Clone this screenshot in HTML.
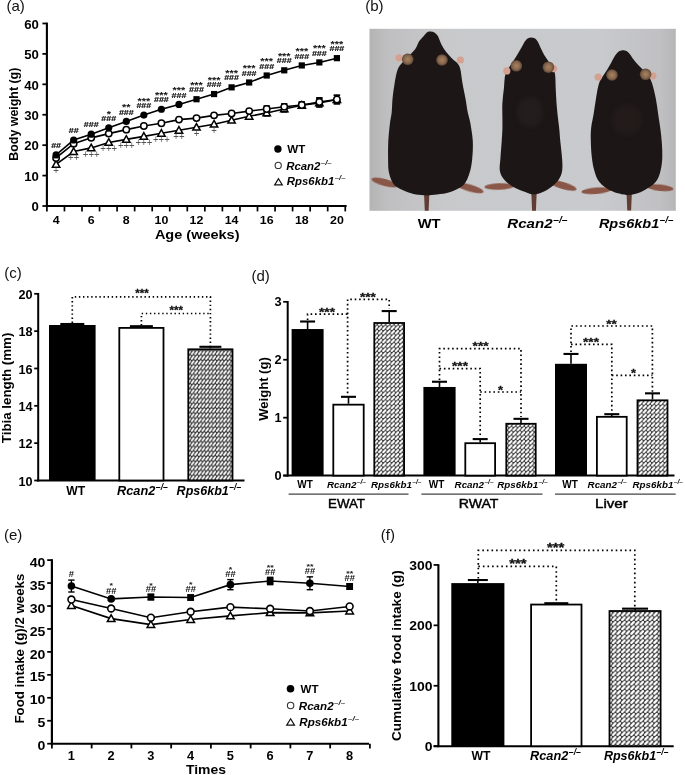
<!DOCTYPE html>
<html><head><meta charset="utf-8"><title>Figure</title>
<style>
html,body{margin:0;padding:0;background:#fff;}
body{width:685px;height:775px;overflow:hidden;}
svg{display:block;font-family:'Liberation Sans', sans-serif;}
text{opacity:0.999;}
</style></head><body>
<svg width="685" height="775" viewBox="0 0 685 775">
<defs>
<pattern id="hatchc" patternUnits="userSpaceOnUse" width="3.6" height="4.8"><rect width="3.6" height="4.8" fill="#3a3a3a"/><path d="M0.94,3.74 L2.81,1.15" stroke="#fff" stroke-width="1.80" stroke-linecap="round"/></pattern>
<pattern id="hatchd" patternUnits="userSpaceOnUse" width="4.2" height="4.4"><rect width="4.2" height="4.4" fill="#3a3a3a"/><path d="M1.09,3.43 L3.28,1.06" stroke="#fff" stroke-width="2.10" stroke-linecap="round"/></pattern>
<pattern id="hatchf" patternUnits="userSpaceOnUse" width="4.6" height="4.6"><rect width="4.6" height="4.6" fill="#3a3a3a"/><path d="M1.20,3.59 L3.59,1.10" stroke="#fff" stroke-width="2.30" stroke-linecap="round"/></pattern>
</defs>
<rect width="685" height="775" fill="#fff"/>
<text x="6.40" y="10.80" font-size="15" font-weight="normal" font-style="normal" text-anchor="start" fill="#111" >(a)</text>
<line x1="46.90" y1="22.60" x2="46.90" y2="207.00" stroke="#000" stroke-width="2.1" />
<line x1="45.90" y1="206.00" x2="346.60" y2="206.00" stroke="#000" stroke-width="2.0" />
<line x1="42.40" y1="206.00" x2="46.90" y2="206.00" stroke="#000" stroke-width="1.75" />
<text transform="translate(38.80,211.30) scale(1.08,1)" font-size="12.2" font-weight="bold" font-style="normal" text-anchor="end" fill="#000" >0</text>
<line x1="42.40" y1="175.58" x2="46.90" y2="175.58" stroke="#000" stroke-width="1.75" />
<text transform="translate(38.80,180.88) scale(1.08,1)" font-size="12.2" font-weight="bold" font-style="normal" text-anchor="end" fill="#000" >10</text>
<line x1="42.40" y1="145.16" x2="46.90" y2="145.16" stroke="#000" stroke-width="1.75" />
<text transform="translate(38.80,150.46) scale(1.08,1)" font-size="12.2" font-weight="bold" font-style="normal" text-anchor="end" fill="#000" >20</text>
<line x1="42.40" y1="114.74" x2="46.90" y2="114.74" stroke="#000" stroke-width="1.75" />
<text transform="translate(38.80,120.04) scale(1.08,1)" font-size="12.2" font-weight="bold" font-style="normal" text-anchor="end" fill="#000" >30</text>
<line x1="42.40" y1="84.32" x2="46.90" y2="84.32" stroke="#000" stroke-width="1.75" />
<text transform="translate(38.80,89.62) scale(1.08,1)" font-size="12.2" font-weight="bold" font-style="normal" text-anchor="end" fill="#000" >40</text>
<line x1="42.40" y1="53.90" x2="46.90" y2="53.90" stroke="#000" stroke-width="1.75" />
<text transform="translate(38.80,59.20) scale(1.08,1)" font-size="12.2" font-weight="bold" font-style="normal" text-anchor="end" fill="#000" >50</text>
<line x1="42.40" y1="23.48" x2="46.90" y2="23.48" stroke="#000" stroke-width="1.75" />
<text transform="translate(38.80,28.78) scale(1.08,1)" font-size="12.2" font-weight="bold" font-style="normal" text-anchor="end" fill="#000" >60</text>
<line x1="46.90" y1="206.00" x2="46.90" y2="211.40" stroke="#000" stroke-width="1.7" />
<line x1="64.45" y1="206.00" x2="64.45" y2="211.40" stroke="#000" stroke-width="1.7" />
<line x1="82.00" y1="206.00" x2="82.00" y2="211.40" stroke="#000" stroke-width="1.7" />
<line x1="99.55" y1="206.00" x2="99.55" y2="211.40" stroke="#000" stroke-width="1.7" />
<line x1="117.10" y1="206.00" x2="117.10" y2="211.40" stroke="#000" stroke-width="1.7" />
<line x1="134.65" y1="206.00" x2="134.65" y2="211.40" stroke="#000" stroke-width="1.7" />
<line x1="152.20" y1="206.00" x2="152.20" y2="211.40" stroke="#000" stroke-width="1.7" />
<line x1="169.75" y1="206.00" x2="169.75" y2="211.40" stroke="#000" stroke-width="1.7" />
<line x1="187.30" y1="206.00" x2="187.30" y2="211.40" stroke="#000" stroke-width="1.7" />
<line x1="204.85" y1="206.00" x2="204.85" y2="211.40" stroke="#000" stroke-width="1.7" />
<line x1="222.40" y1="206.00" x2="222.40" y2="211.40" stroke="#000" stroke-width="1.7" />
<line x1="239.95" y1="206.00" x2="239.95" y2="211.40" stroke="#000" stroke-width="1.7" />
<line x1="257.50" y1="206.00" x2="257.50" y2="211.40" stroke="#000" stroke-width="1.7" />
<line x1="275.05" y1="206.00" x2="275.05" y2="211.40" stroke="#000" stroke-width="1.7" />
<line x1="292.60" y1="206.00" x2="292.60" y2="211.40" stroke="#000" stroke-width="1.7" />
<line x1="310.15" y1="206.00" x2="310.15" y2="211.40" stroke="#000" stroke-width="1.7" />
<line x1="327.70" y1="206.00" x2="327.70" y2="211.40" stroke="#000" stroke-width="1.7" />
<line x1="345.25" y1="206.00" x2="345.25" y2="211.40" stroke="#000" stroke-width="1.7" />
<text transform="translate(56.10,224.00) scale(1.05,1)" font-size="11.8" font-weight="bold" font-style="normal" text-anchor="middle" fill="#000" >4</text>
<text transform="translate(91.20,224.00) scale(1.05,1)" font-size="11.8" font-weight="bold" font-style="normal" text-anchor="middle" fill="#000" >6</text>
<text transform="translate(126.30,224.00) scale(1.05,1)" font-size="11.8" font-weight="bold" font-style="normal" text-anchor="middle" fill="#000" >8</text>
<text transform="translate(161.40,224.00) scale(1.05,1)" font-size="11.8" font-weight="bold" font-style="normal" text-anchor="middle" fill="#000" >10</text>
<text transform="translate(196.50,224.00) scale(1.05,1)" font-size="11.8" font-weight="bold" font-style="normal" text-anchor="middle" fill="#000" >12</text>
<text transform="translate(231.60,224.00) scale(1.05,1)" font-size="11.8" font-weight="bold" font-style="normal" text-anchor="middle" fill="#000" >14</text>
<text transform="translate(266.70,224.00) scale(1.05,1)" font-size="11.8" font-weight="bold" font-style="normal" text-anchor="middle" fill="#000" >16</text>
<text transform="translate(301.80,224.00) scale(1.05,1)" font-size="11.8" font-weight="bold" font-style="normal" text-anchor="middle" fill="#000" >18</text>
<text transform="translate(336.90,224.00) scale(1.05,1)" font-size="11.8" font-weight="bold" font-style="normal" text-anchor="middle" fill="#000" >20</text>
<text x="197.20" y="238.90" font-size="12.8" font-weight="bold" font-style="normal" text-anchor="middle" fill="#000" textLength="84.6" lengthAdjust="spacingAndGlyphs">Age (weeks)</text>
<text transform="translate(18.00,114.20) rotate(-90)" font-size="12.2" font-weight="bold" text-anchor="middle" textLength="93" lengthAdjust="spacingAndGlyphs">Body weight (g)</text>
<path d="M56.10,164.32 L73.65,151.55 L91.20,147.90 L108.75,142.42 L126.30,139.38 L143.85,136.34 L161.40,133.30 L178.95,130.25 L196.50,127.21 L214.05,124.17 L231.60,120.22 L249.15,116.26 L266.70,112.91 L284.25,108.96 L301.80,105.31 L319.35,102.88 L336.90,99.53" fill="none" stroke="#000" stroke-width="1.6"/>
<path d="M56.10,157.94 L73.65,143.64 L91.20,137.86 L108.75,133.60 L126.30,129.65 L143.85,126.00 L161.40,123.26 L178.95,119.61 L196.50,118.09 L214.05,115.35 L231.60,113.52 L249.15,111.09 L266.70,108.96 L284.25,106.83 L301.80,105.01 L319.35,101.96 L336.90,99.53" fill="none" stroke="#000" stroke-width="1.6"/>
<path d="M56.10,154.89 L73.65,139.99 L91.20,134.21 L108.75,127.82 L126.30,121.43 L143.85,115.04 L161.40,109.26 L178.95,104.40 L196.50,99.23 L214.05,94.05 L231.60,87.36 L249.15,82.49 L266.70,75.50 L284.25,70.33 L301.80,65.46 L319.35,62.42 L336.90,58.16" fill="none" stroke="#000" stroke-width="1.6"/>
<line x1="266.70" y1="105.92" x2="266.70" y2="112.00" stroke="#000" stroke-width="1.3" />
<line x1="263.50" y1="105.92" x2="269.90" y2="105.92" stroke="#000" stroke-width="1.4" />
<line x1="263.50" y1="112.00" x2="269.90" y2="112.00" stroke="#000" stroke-width="1.4" />
<line x1="266.70" y1="109.87" x2="266.70" y2="115.96" stroke="#000" stroke-width="1.3" />
<line x1="263.50" y1="109.87" x2="269.90" y2="109.87" stroke="#000" stroke-width="1.4" />
<line x1="263.50" y1="115.96" x2="269.90" y2="115.96" stroke="#000" stroke-width="1.4" />
<line x1="284.25" y1="103.79" x2="284.25" y2="109.87" stroke="#000" stroke-width="1.3" />
<line x1="281.05" y1="103.79" x2="287.45" y2="103.79" stroke="#000" stroke-width="1.4" />
<line x1="281.05" y1="109.87" x2="287.45" y2="109.87" stroke="#000" stroke-width="1.4" />
<line x1="284.25" y1="105.92" x2="284.25" y2="112.00" stroke="#000" stroke-width="1.3" />
<line x1="281.05" y1="105.92" x2="287.45" y2="105.92" stroke="#000" stroke-width="1.4" />
<line x1="281.05" y1="112.00" x2="287.45" y2="112.00" stroke="#000" stroke-width="1.4" />
<line x1="301.80" y1="101.96" x2="301.80" y2="108.05" stroke="#000" stroke-width="1.3" />
<line x1="298.60" y1="101.96" x2="305.00" y2="101.96" stroke="#000" stroke-width="1.4" />
<line x1="298.60" y1="108.05" x2="305.00" y2="108.05" stroke="#000" stroke-width="1.4" />
<line x1="301.80" y1="102.27" x2="301.80" y2="108.35" stroke="#000" stroke-width="1.3" />
<line x1="298.60" y1="102.27" x2="305.00" y2="102.27" stroke="#000" stroke-width="1.4" />
<line x1="298.60" y1="108.35" x2="305.00" y2="108.35" stroke="#000" stroke-width="1.4" />
<line x1="319.35" y1="97.70" x2="319.35" y2="106.22" stroke="#000" stroke-width="1.3" />
<line x1="316.15" y1="97.70" x2="322.55" y2="97.70" stroke="#000" stroke-width="1.4" />
<line x1="316.15" y1="106.22" x2="322.55" y2="106.22" stroke="#000" stroke-width="1.4" />
<line x1="319.35" y1="98.62" x2="319.35" y2="107.14" stroke="#000" stroke-width="1.3" />
<line x1="316.15" y1="98.62" x2="322.55" y2="98.62" stroke="#000" stroke-width="1.4" />
<line x1="316.15" y1="107.14" x2="322.55" y2="107.14" stroke="#000" stroke-width="1.4" />
<line x1="336.90" y1="95.27" x2="336.90" y2="103.79" stroke="#000" stroke-width="1.3" />
<line x1="333.70" y1="95.27" x2="340.10" y2="95.27" stroke="#000" stroke-width="1.4" />
<line x1="333.70" y1="103.79" x2="340.10" y2="103.79" stroke="#000" stroke-width="1.4" />
<line x1="336.90" y1="95.27" x2="336.90" y2="103.79" stroke="#000" stroke-width="1.3" />
<line x1="333.70" y1="95.27" x2="340.10" y2="95.27" stroke="#000" stroke-width="1.4" />
<line x1="333.70" y1="103.79" x2="340.10" y2="103.79" stroke="#000" stroke-width="1.4" />
<path d="M56.10,160.62 L59.80,167.22 L52.40,167.22 Z" fill="#fff" stroke="#000" stroke-width="1.5" stroke-linejoin="miter"/>
<circle cx="56.10" cy="157.94" r="3.2" fill="#fff" stroke="#000" stroke-width="1.5"/>
<circle cx="56.10" cy="154.89" r="3.6" fill="#000"/>
<path d="M73.65,147.85 L77.35,154.45 L69.95,154.45 Z" fill="#fff" stroke="#000" stroke-width="1.5" stroke-linejoin="miter"/>
<circle cx="73.65" cy="143.64" r="3.2" fill="#fff" stroke="#000" stroke-width="1.5"/>
<circle cx="73.65" cy="139.99" r="3.6" fill="#000"/>
<path d="M91.20,144.20 L94.90,150.80 L87.50,150.80 Z" fill="#fff" stroke="#000" stroke-width="1.5" stroke-linejoin="miter"/>
<circle cx="91.20" cy="137.86" r="3.2" fill="#fff" stroke="#000" stroke-width="1.5"/>
<circle cx="91.20" cy="134.21" r="3.6" fill="#000"/>
<path d="M108.75,138.72 L112.45,145.32 L105.05,145.32 Z" fill="#fff" stroke="#000" stroke-width="1.5" stroke-linejoin="miter"/>
<circle cx="108.75" cy="133.60" r="3.2" fill="#fff" stroke="#000" stroke-width="1.5"/>
<circle cx="108.75" cy="127.82" r="3.6" fill="#000"/>
<path d="M126.30,135.68 L130.00,142.28 L122.60,142.28 Z" fill="#fff" stroke="#000" stroke-width="1.5" stroke-linejoin="miter"/>
<circle cx="126.30" cy="129.65" r="3.2" fill="#fff" stroke="#000" stroke-width="1.5"/>
<circle cx="126.30" cy="121.43" r="3.6" fill="#000"/>
<path d="M143.85,132.64 L147.55,139.24 L140.15,139.24 Z" fill="#fff" stroke="#000" stroke-width="1.5" stroke-linejoin="miter"/>
<circle cx="143.85" cy="126.00" r="3.2" fill="#fff" stroke="#000" stroke-width="1.5"/>
<circle cx="143.85" cy="115.04" r="3.6" fill="#000"/>
<path d="M161.40,129.60 L165.10,136.20 L157.70,136.20 Z" fill="#fff" stroke="#000" stroke-width="1.5" stroke-linejoin="miter"/>
<circle cx="161.40" cy="123.26" r="3.2" fill="#fff" stroke="#000" stroke-width="1.5"/>
<circle cx="161.40" cy="109.26" r="3.6" fill="#000"/>
<path d="M178.95,126.55 L182.65,133.15 L175.25,133.15 Z" fill="#fff" stroke="#000" stroke-width="1.5" stroke-linejoin="miter"/>
<circle cx="178.95" cy="119.61" r="3.2" fill="#fff" stroke="#000" stroke-width="1.5"/>
<circle cx="178.95" cy="104.40" r="3.6" fill="#000"/>
<path d="M196.50,123.51 L200.20,130.11 L192.80,130.11 Z" fill="#fff" stroke="#000" stroke-width="1.5" stroke-linejoin="miter"/>
<circle cx="196.50" cy="118.09" r="3.2" fill="#fff" stroke="#000" stroke-width="1.5"/>
<rect x="193.40" y="96.13" width="6.2" height="6.2" fill="#000"/>
<path d="M214.05,120.47 L217.75,127.07 L210.35,127.07 Z" fill="#fff" stroke="#000" stroke-width="1.5" stroke-linejoin="miter"/>
<circle cx="214.05" cy="115.35" r="3.2" fill="#fff" stroke="#000" stroke-width="1.5"/>
<rect x="210.95" y="90.95" width="6.2" height="6.2" fill="#000"/>
<path d="M231.60,116.52 L235.30,123.12 L227.90,123.12 Z" fill="#fff" stroke="#000" stroke-width="1.5" stroke-linejoin="miter"/>
<circle cx="231.60" cy="113.52" r="3.2" fill="#fff" stroke="#000" stroke-width="1.5"/>
<rect x="228.50" y="84.26" width="6.2" height="6.2" fill="#000"/>
<path d="M249.15,112.56 L252.85,119.16 L245.45,119.16 Z" fill="#fff" stroke="#000" stroke-width="1.5" stroke-linejoin="miter"/>
<circle cx="249.15" cy="111.09" r="3.2" fill="#fff" stroke="#000" stroke-width="1.5"/>
<rect x="246.05" y="79.39" width="6.2" height="6.2" fill="#000"/>
<path d="M266.70,109.21 L270.40,115.81 L263.00,115.81 Z" fill="#fff" stroke="#000" stroke-width="1.5" stroke-linejoin="miter"/>
<circle cx="266.70" cy="108.96" r="3.2" fill="#fff" stroke="#000" stroke-width="1.5"/>
<rect x="263.60" y="72.40" width="6.2" height="6.2" fill="#000"/>
<path d="M284.25,105.26 L287.95,111.86 L280.55,111.86 Z" fill="#fff" stroke="#000" stroke-width="1.5" stroke-linejoin="miter"/>
<circle cx="284.25" cy="106.83" r="3.2" fill="#fff" stroke="#000" stroke-width="1.5"/>
<rect x="281.15" y="67.23" width="6.2" height="6.2" fill="#000"/>
<path d="M301.80,101.61 L305.50,108.21 L298.10,108.21 Z" fill="#fff" stroke="#000" stroke-width="1.5" stroke-linejoin="miter"/>
<circle cx="301.80" cy="105.01" r="3.2" fill="#fff" stroke="#000" stroke-width="1.5"/>
<rect x="298.70" y="62.36" width="6.2" height="6.2" fill="#000"/>
<path d="M319.35,99.18 L323.05,105.78 L315.65,105.78 Z" fill="#fff" stroke="#000" stroke-width="1.5" stroke-linejoin="miter"/>
<circle cx="319.35" cy="101.96" r="3.2" fill="#fff" stroke="#000" stroke-width="1.5"/>
<rect x="316.25" y="59.32" width="6.2" height="6.2" fill="#000"/>
<path d="M336.90,95.83 L340.60,102.43 L333.20,102.43 Z" fill="#fff" stroke="#000" stroke-width="1.5" stroke-linejoin="miter"/>
<circle cx="336.90" cy="99.53" r="3.2" fill="#fff" stroke="#000" stroke-width="1.5"/>
<rect x="333.80" y="55.06" width="6.2" height="6.2" fill="#000"/>
<text transform="translate(56.10,147.99) scale(1,0.8)" font-size="8.9" font-weight="bold" text-anchor="middle" fill="#111" stroke="#111" stroke-width="0.25">##</text>
<text transform="translate(73.65,133.09) scale(1,0.8)" font-size="8.9" font-weight="bold" text-anchor="middle" fill="#111" stroke="#111" stroke-width="0.25">##</text>
<text transform="translate(91.20,127.31) scale(1,0.8)" font-size="8.9" font-weight="bold" text-anchor="middle" fill="#111" stroke="#111" stroke-width="0.25">###</text>
<text transform="translate(108.75,120.92) scale(1,0.8)" font-size="8.9" font-weight="bold" text-anchor="middle" fill="#111" stroke="#111" stroke-width="0.25">###</text>
<text transform="translate(108.75,116.66) scale(1,0.85)" font-size="10.9" font-weight="bold" text-anchor="middle" fill="#111">*</text>
<text transform="translate(126.30,114.53) scale(1,0.8)" font-size="8.9" font-weight="bold" text-anchor="middle" fill="#111" stroke="#111" stroke-width="0.25">###</text>
<text transform="translate(126.30,110.27) scale(1,0.85)" font-size="10.9" font-weight="bold" text-anchor="middle" fill="#111">**</text>
<text transform="translate(143.85,108.14) scale(1,0.8)" font-size="8.9" font-weight="bold" text-anchor="middle" fill="#111" stroke="#111" stroke-width="0.25">###</text>
<text transform="translate(143.85,103.88) scale(1,0.85)" font-size="10.9" font-weight="bold" text-anchor="middle" fill="#111">***</text>
<text transform="translate(161.40,102.36) scale(1,0.8)" font-size="8.9" font-weight="bold" text-anchor="middle" fill="#111" stroke="#111" stroke-width="0.25">###</text>
<text transform="translate(161.40,98.10) scale(1,0.85)" font-size="10.9" font-weight="bold" text-anchor="middle" fill="#111">***</text>
<text transform="translate(178.95,97.50) scale(1,0.8)" font-size="8.9" font-weight="bold" text-anchor="middle" fill="#111" stroke="#111" stroke-width="0.25">###</text>
<text transform="translate(178.95,93.23) scale(1,0.85)" font-size="10.9" font-weight="bold" text-anchor="middle" fill="#111">***</text>
<text transform="translate(196.50,92.33) scale(1,0.8)" font-size="8.9" font-weight="bold" text-anchor="middle" fill="#111" stroke="#111" stroke-width="0.25">###</text>
<text transform="translate(196.50,88.06) scale(1,0.85)" font-size="10.9" font-weight="bold" text-anchor="middle" fill="#111">***</text>
<text transform="translate(214.05,87.15) scale(1,0.8)" font-size="8.9" font-weight="bold" text-anchor="middle" fill="#111" stroke="#111" stroke-width="0.25">###</text>
<text transform="translate(214.05,82.89) scale(1,0.85)" font-size="10.9" font-weight="bold" text-anchor="middle" fill="#111">***</text>
<text transform="translate(231.60,80.46) scale(1,0.8)" font-size="8.9" font-weight="bold" text-anchor="middle" fill="#111" stroke="#111" stroke-width="0.25">###</text>
<text transform="translate(231.60,76.20) scale(1,0.85)" font-size="10.9" font-weight="bold" text-anchor="middle" fill="#111">***</text>
<text transform="translate(249.15,75.59) scale(1,0.8)" font-size="8.9" font-weight="bold" text-anchor="middle" fill="#111" stroke="#111" stroke-width="0.25">###</text>
<text transform="translate(249.15,71.33) scale(1,0.85)" font-size="10.9" font-weight="bold" text-anchor="middle" fill="#111">***</text>
<text transform="translate(266.70,68.60) scale(1,0.8)" font-size="8.9" font-weight="bold" text-anchor="middle" fill="#111" stroke="#111" stroke-width="0.25">###</text>
<text transform="translate(266.70,64.34) scale(1,0.85)" font-size="10.9" font-weight="bold" text-anchor="middle" fill="#111">***</text>
<text transform="translate(284.25,63.43) scale(1,0.8)" font-size="8.9" font-weight="bold" text-anchor="middle" fill="#111" stroke="#111" stroke-width="0.25">###</text>
<text transform="translate(284.25,59.16) scale(1,0.85)" font-size="10.9" font-weight="bold" text-anchor="middle" fill="#111">***</text>
<text transform="translate(301.80,58.56) scale(1,0.8)" font-size="8.9" font-weight="bold" text-anchor="middle" fill="#111" stroke="#111" stroke-width="0.25">###</text>
<text transform="translate(301.80,54.30) scale(1,0.85)" font-size="10.9" font-weight="bold" text-anchor="middle" fill="#111">***</text>
<text transform="translate(319.35,55.52) scale(1,0.8)" font-size="8.9" font-weight="bold" text-anchor="middle" fill="#111" stroke="#111" stroke-width="0.25">###</text>
<text transform="translate(319.35,51.25) scale(1,0.85)" font-size="10.9" font-weight="bold" text-anchor="middle" fill="#111">***</text>
<text transform="translate(336.90,51.26) scale(1,0.8)" font-size="8.9" font-weight="bold" text-anchor="middle" fill="#111" stroke="#111" stroke-width="0.25">###</text>
<text transform="translate(336.90,47.00) scale(1,0.85)" font-size="10.9" font-weight="bold" text-anchor="middle" fill="#111">***</text>
<text transform="translate(56.10,174.00) scale(1,1.15)" font-size="9.6" font-weight="normal" text-anchor="middle" fill="#555">+</text>
<text transform="translate(73.65,161.22) scale(1,1.15)" font-size="9.6" font-weight="normal" text-anchor="middle" fill="#555">++</text>
<text transform="translate(91.20,157.57) scale(1,1.15)" font-size="9.6" font-weight="normal" text-anchor="middle" fill="#555">+++</text>
<text transform="translate(108.75,152.10) scale(1,1.15)" font-size="9.6" font-weight="normal" text-anchor="middle" fill="#555">+++</text>
<text transform="translate(126.30,149.06) scale(1,1.15)" font-size="9.6" font-weight="normal" text-anchor="middle" fill="#555">+++</text>
<text transform="translate(143.85,146.01) scale(1,1.15)" font-size="9.6" font-weight="normal" text-anchor="middle" fill="#555">+++</text>
<text transform="translate(161.40,142.97) scale(1,1.15)" font-size="9.6" font-weight="normal" text-anchor="middle" fill="#555">+++</text>
<text transform="translate(178.95,139.93) scale(1,1.15)" font-size="9.6" font-weight="normal" text-anchor="middle" fill="#555">++</text>
<text transform="translate(196.50,136.89) scale(1,1.15)" font-size="9.6" font-weight="normal" text-anchor="middle" fill="#555">+</text>
<text transform="translate(214.05,133.85) scale(1,1.15)" font-size="9.6" font-weight="normal" text-anchor="middle" fill="#555">+</text>
<circle cx="277.9" cy="149" r="3.7" fill="#000"/>
<text x="287.30" y="153.10" font-size="11.6" font-weight="bold" font-style="normal" text-anchor="start" fill="#000" >WT</text>
<circle cx="278.2" cy="165.4" r="3.1" fill="#fff" stroke="#333" stroke-width="1.1"/>
<text transform="translate(286.20,169.80) scale(1.0,1)" font-size="11.4" font-weight="bold" font-style="italic" text-anchor="start">Rcan2<tspan font-size="7.75" dy="-4.79" dx="0.46">&#8211;/&#8211;</tspan></text>
<path d="M278.5,178.7 L282.3,184.9 L274.7,184.9 Z" fill="#fff" stroke="#111" stroke-width="1.2"/>
<text transform="translate(286.80,185.20) scale(1.0,1)" font-size="11.4" font-weight="bold" font-style="italic" text-anchor="start">Rps6kb1<tspan font-size="7.75" dy="-4.79" dx="0.46">&#8211;/&#8211;</tspan></text>
<text x="365.20" y="10.80" font-size="15" font-weight="normal" font-style="normal" text-anchor="start" fill="#111" >(b)</text>
<defs>
<linearGradient id="photoH" x1="0" y1="0" x2="1" y2="0">
<stop offset="0" stop-color="#b4b4b5"/><stop offset="0.06" stop-color="#bfbfc1"/>
<stop offset="0.25" stop-color="#c8c9cb"/><stop offset="0.75" stop-color="#c9cacd"/>
<stop offset="0.95" stop-color="#c0c0c3"/><stop offset="1" stop-color="#b6b6b8"/>
</linearGradient>
<filter id="blur1" x="-10%" y="-10%" width="120%" height="120%"><feGaussianBlur stdDeviation="0.7"/></filter>
<filter id="blur2" x="-20%" y="-20%" width="140%" height="140%"><feGaussianBlur stdDeviation="2.5"/></filter>
<radialGradient id="ear" cx="0.5" cy="0.5" r="0.5"><stop offset="0" stop-color="#a7825f"/><stop offset="0.6" stop-color="#8a6a50"/><stop offset="1" stop-color="#5e4536"/></radialGradient>
</defs>
<rect x="369.5" y="28.8" width="306.3" height="182.0" fill="url(#photoH)"/>
<ellipse cx="384.8" cy="182.5" rx="13.7" ry="3.5" transform="rotate(14.8 384.8 182.5)" fill="#8a5646" filter="url(#blur1)"/>
<ellipse cx="469.8" cy="188.0" rx="14.3" ry="3.5" transform="rotate(16.2 469.8 188.0)" fill="#8a5646" filter="url(#blur1)"/>
<path d="M423.9,190 L429.5,190 L428.6,210.8 L424.8,210.8 Z" fill="#5e3d32" filter="url(#blur1)"/>
<ellipse cx="499.2" cy="186.5" rx="14.8" ry="3.2" transform="rotate(-1.9 499.2 186.5)" fill="#8a5646" filter="url(#blur1)"/>
<ellipse cx="562.8" cy="185.5" rx="14.3" ry="3.5" transform="rotate(16.2 562.8 185.5)" fill="#8a5646" filter="url(#blur1)"/>
<path d="M531.2,190 L536.8,190 L535.9,210.8 L532.1,210.8 Z" fill="#5e3d32" filter="url(#blur1)"/>
<ellipse cx="596.2" cy="190.7" rx="14.8" ry="3.2" transform="rotate(-4.5 596.2 190.7)" fill="#8a5646" filter="url(#blur1)"/>
<ellipse cx="660.2" cy="187.8" rx="13.3" ry="3.2" transform="rotate(5.8 660.2 187.8)" fill="#8a5646" filter="url(#blur1)"/>
<path d="M626.4,190 L632.0,190 L631.1,210.5 L627.3,210.5 Z" fill="#5e3d32" filter="url(#blur1)"/>
<path d="M427.2,32.2 C428.4,31.4 429.6,31.4 430.8,31.4 C432.0,31.4 433.2,31.6 434.4,32.4 C435.6,33.2 436.8,34.1 438.0,36.2 C439.2,38.3 440.3,42.4 441.7,45.0 C443.1,47.6 444.5,49.8 446.2,52.0 C447.9,54.2 450.0,56.5 452.0,58.5 C454.0,60.5 456.6,62.1 458.0,64.0 C459.4,65.9 459.8,66.8 460.5,70.0 C461.2,73.2 461.7,78.7 462.5,83.4 C463.3,88.1 464.5,93.1 465.4,98.0 C466.3,102.9 466.9,108.3 467.8,112.6 C468.7,116.9 469.7,119.2 470.5,124.0 C471.3,128.8 472.5,135.5 472.8,141.3 C473.1,147.1 472.7,153.6 472.2,158.8 C471.7,164.1 471.1,168.4 469.6,172.8 C468.2,177.2 466.7,181.8 463.5,185.0 C460.3,188.2 454.7,190.4 450.3,192.0 C445.9,193.6 440.9,194.0 437.0,194.5 C433.1,195.0 430.2,195.2 426.7,195.2 C423.2,195.2 419.4,195.1 416.0,194.5 C412.6,193.9 409.6,193.1 406.0,191.5 C402.4,189.9 397.1,188.1 394.3,185.0 C391.5,181.9 390.0,177.2 389.0,172.8 C388.0,168.4 388.2,164.1 388.1,158.8 C388.0,153.6 388.0,147.1 388.3,141.3 C388.6,135.5 389.3,128.6 389.9,123.8 C390.5,119.0 391.2,116.9 391.7,112.6 C392.1,108.3 392.1,102.9 392.6,98.0 C393.1,93.1 393.8,88.1 394.6,83.4 C395.4,78.7 396.3,73.4 397.5,70.0 C398.7,66.6 400.1,65.3 402.0,63.0 C403.9,60.7 406.6,58.3 408.8,56.0 C411.0,53.7 413.6,51.5 415.3,49.0 C417.1,46.5 417.9,43.1 419.3,41.0 C420.7,38.9 422.3,37.7 423.6,36.2 C424.9,34.7 426.0,33.0 427.2,32.2 Z" fill="#1b1614" filter="url(#blur1)"/>
<path d="M528.0,38.2 C529.0,37.6 530.2,37.4 531.3,37.4 C532.4,37.4 533.5,37.6 534.6,38.3 C535.7,39.0 536.7,39.9 537.7,41.5 C538.7,43.1 539.6,45.8 540.7,48.0 C541.8,50.2 543.0,52.8 544.2,55.0 C545.5,57.2 546.9,59.0 548.2,61.0 C549.5,63.0 550.9,64.8 552.0,67.0 C553.1,69.2 554.4,70.4 555.0,74.0 C555.6,77.6 555.5,83.6 555.7,88.4 C556.0,93.2 556.1,98.1 556.5,103.0 C556.9,107.9 557.4,113.2 557.9,117.6 C558.4,122.0 558.9,125.4 559.3,129.3 C559.7,133.2 559.8,136.4 560.3,141.3 C560.8,146.2 561.8,153.9 562.1,158.8 C562.4,163.8 562.7,167.5 562.1,171.0 C561.5,174.5 560.4,177.2 558.6,179.8 C556.9,182.4 554.2,184.8 551.6,186.8 C549.0,188.9 545.8,190.8 542.8,192.1 C539.8,193.4 536.6,194.5 533.7,194.5 C530.8,194.5 528.8,193.4 525.3,192.1 C521.8,190.8 516.5,188.9 513.0,186.8 C509.5,184.8 506.5,182.4 504.3,179.8 C502.1,177.2 500.5,174.5 499.9,171.0 C499.2,167.5 500.1,163.8 500.4,158.8 C500.7,153.9 501.4,146.2 501.7,141.3 C502.0,136.4 502.3,133.2 502.4,129.3 C502.5,125.4 502.4,122.0 502.4,117.6 C502.4,113.2 502.1,107.9 502.4,103.0 C502.6,98.1 503.4,93.2 503.9,88.4 C504.4,83.6 504.4,77.7 505.4,74.0 C506.4,70.3 508.5,68.4 510.0,66.0 C511.5,63.6 512.9,61.7 514.3,59.5 C515.7,57.3 517.0,55.2 518.3,53.0 C519.6,50.8 521.1,48.0 522.3,46.0 C523.5,44.0 524.4,42.1 525.4,40.8 C526.4,39.5 527.0,38.8 528.0,38.2 Z" fill="#1b1614" filter="url(#blur1)"/>
<path d="M619.8,51.0 C620.7,50.6 622.1,50.2 623.2,50.2 C624.3,50.2 625.5,50.4 626.6,51.0 C627.7,51.6 628.6,52.7 629.7,54.0 C630.8,55.3 631.8,57.2 633.2,59.0 C634.6,60.8 636.4,63.0 638.2,65.0 C640.0,67.0 642.4,69.0 644.2,71.0 C646.0,73.0 647.7,74.9 649.0,77.0 C650.3,79.1 651.1,80.2 652.2,83.8 C653.3,87.4 654.8,93.5 655.8,98.4 C656.8,103.3 657.3,108.1 658.0,113.0 C658.7,117.9 659.6,123.1 660.2,127.6 C660.8,132.1 661.2,135.1 661.6,140.0 C662.0,144.9 662.5,151.9 662.3,157.0 C662.1,162.1 661.7,166.2 660.6,170.4 C659.5,174.6 658.4,178.8 655.6,182.1 C652.8,185.4 648.4,188.3 643.9,190.5 C639.4,192.7 634.4,195.0 628.8,195.0 C623.2,195.0 615.2,192.7 610.3,190.5 C605.4,188.3 602.1,185.4 599.4,182.1 C596.7,178.8 595.6,174.6 594.3,170.4 C593.0,166.2 592.4,162.0 591.8,157.0 C591.2,152.0 590.9,145.1 590.8,140.2 C590.7,135.3 590.7,132.1 591.2,127.6 C591.7,123.1 593.0,117.9 593.8,113.0 C594.6,108.1 595.1,103.3 596.0,98.4 C596.9,93.5 597.7,87.5 598.9,83.8 C600.1,80.1 601.6,78.4 603.0,76.0 C604.4,73.6 605.9,71.8 607.3,69.5 C608.7,67.2 610.0,64.8 611.3,62.5 C612.5,60.2 613.8,57.7 614.8,56.0 C615.8,54.3 616.8,53.2 617.6,52.4 C618.4,51.6 618.9,51.4 619.8,51.0 Z" fill="#1b1614" filter="url(#blur1)"/>
<ellipse cx="530" cy="112" rx="13" ry="15" fill="#3a332d" opacity="0.25" filter="url(#blur2)"/>
<ellipse cx="627" cy="120" rx="15" ry="15" fill="#3a322b" opacity="0.2" filter="url(#blur2)"/>
<circle cx="399" cy="57.8" r="3.6" fill="#d4a08f" filter="url(#blur1)"/>
<circle cx="407.7" cy="59.3" r="5.8" fill="url(#ear)" filter="url(#blur1)"/>
<circle cx="460.3" cy="60" r="3.6" fill="#d4a08f" filter="url(#blur1)"/>
<circle cx="442" cy="60" r="5.8" fill="url(#ear)" filter="url(#blur1)"/>
<circle cx="506.8" cy="70.9" r="3.6" fill="#d4a08f" filter="url(#blur1)"/>
<circle cx="516.3" cy="65.8" r="5.8" fill="url(#ear)" filter="url(#blur1)"/>
<circle cx="553.5" cy="68.7" r="3.6" fill="#d4a08f" filter="url(#blur1)"/>
<circle cx="548.4" cy="67.2" r="5.8" fill="url(#ear)" filter="url(#blur1)"/>
<circle cx="598.2" cy="77.2" r="3.6" fill="#d4a08f" filter="url(#blur1)"/>
<circle cx="612" cy="75" r="5.8" fill="url(#ear)" filter="url(#blur1)"/>
<circle cx="652.9" cy="75.8" r="3.6" fill="#d4a08f" filter="url(#blur1)"/>
<circle cx="645.6" cy="74.3" r="5.8" fill="url(#ear)" filter="url(#blur1)"/>
<text transform="translate(429.10,227.90) scale(1.17,1)" font-size="12.6" font-weight="bold" font-style="normal" text-anchor="middle" fill="#000" >WT</text>
<text transform="translate(507.30,227.90) scale(1.2,1)" font-size="12.6" font-weight="bold" font-style="italic" text-anchor="start">Rcan2<tspan font-size="8.57" dy="-5.29" dx="0.50">&#8211;/&#8211;</tspan></text>
<text transform="translate(598.90,227.90) scale(1.15,1)" font-size="12.6" font-weight="bold" font-style="italic" text-anchor="start">Rps6kb1<tspan font-size="8.57" dy="-5.29" dx="0.50">&#8211;/&#8211;</tspan></text>
<text x="4.20" y="278.10" font-size="15" font-weight="normal" font-style="normal" text-anchor="start" fill="#111" >(c)</text>
<line x1="38.20" y1="293.00" x2="38.20" y2="481.50" stroke="#000" stroke-width="2.0" />
<line x1="37.20" y1="480.50" x2="244.50" y2="480.50" stroke="#000" stroke-width="2.0" />
<line x1="34.20" y1="480.50" x2="38.20" y2="480.50" stroke="#000" stroke-width="1.75" />
<text transform="translate(32.50,485.60) scale(1.04,1)" font-size="12.2" font-weight="bold" font-style="normal" text-anchor="end" fill="#000" >10</text>
<line x1="34.20" y1="443.16" x2="38.20" y2="443.16" stroke="#000" stroke-width="1.75" />
<text transform="translate(32.50,448.26) scale(1.04,1)" font-size="12.2" font-weight="bold" font-style="normal" text-anchor="end" fill="#000" >12</text>
<line x1="34.20" y1="405.82" x2="38.20" y2="405.82" stroke="#000" stroke-width="1.75" />
<text transform="translate(32.50,410.92) scale(1.04,1)" font-size="12.2" font-weight="bold" font-style="normal" text-anchor="end" fill="#000" >14</text>
<line x1="34.20" y1="368.48" x2="38.20" y2="368.48" stroke="#000" stroke-width="1.75" />
<text transform="translate(32.50,373.58) scale(1.04,1)" font-size="12.2" font-weight="bold" font-style="normal" text-anchor="end" fill="#000" >16</text>
<line x1="34.20" y1="331.14" x2="38.20" y2="331.14" stroke="#000" stroke-width="1.75" />
<text transform="translate(32.50,336.24) scale(1.04,1)" font-size="12.2" font-weight="bold" font-style="normal" text-anchor="end" fill="#000" >18</text>
<line x1="34.20" y1="293.80" x2="38.20" y2="293.80" stroke="#000" stroke-width="1.75" />
<text transform="translate(32.50,298.90) scale(1.04,1)" font-size="12.2" font-weight="bold" font-style="normal" text-anchor="end" fill="#000" >20</text>
<text transform="translate(11.10,387.90) rotate(-90)" font-size="12.2" font-weight="bold" text-anchor="middle" textLength="110.5" lengthAdjust="spacingAndGlyphs">Tibia length (mm)</text>
<rect x="49.00" y="325.00" width="46.60" height="155.50" fill="#000"/>
<line x1="72.30" y1="325.00" x2="72.30" y2="324.00" stroke="#000" stroke-width="1.6" />
<line x1="60.30" y1="324.00" x2="84.30" y2="324.00" stroke="#000" stroke-width="2.1" />
<rect x="119.30" y="327.90" width="44.20" height="152.60" fill="#fff" stroke="#000" stroke-width="1.8"/>
<line x1="141.40" y1="327.00" x2="141.40" y2="326.20" stroke="#000" stroke-width="1.6" />
<line x1="129.90" y1="326.20" x2="152.90" y2="326.20" stroke="#000" stroke-width="2.1" />
<rect x="188.30" y="349.30" width="44.20" height="131.20" fill="url(#hatchc)" stroke="#000" stroke-width="1.8"/>
<line x1="210.40" y1="348.40" x2="210.40" y2="346.80" stroke="#000" stroke-width="1.6" />
<line x1="199.40" y1="346.80" x2="221.40" y2="346.80" stroke="#000" stroke-width="2.1" />
<path d="M72.30,323.00 L72.30,296.80 L210.40,296.80 L210.40,346.00" fill="none" stroke="#000" stroke-width="1.7" stroke-dasharray="1.4,2.7"/>
<path d="M141.40,325.50 L141.40,313.50 L210.40,313.50" fill="none" stroke="#000" stroke-width="1.7" stroke-dasharray="1.4,2.7"/>
<text transform="translate(142.00,297.26) scale(1,0.95)" font-size="11.5" font-weight="bold" text-anchor="middle" fill="#111" textLength="13.45" lengthAdjust="spacingAndGlyphs" stroke="#111" stroke-width="0.3">***</text>
<text transform="translate(176.30,314.46) scale(1,0.95)" font-size="11.5" font-weight="bold" text-anchor="middle" fill="#111" textLength="13.45" lengthAdjust="spacingAndGlyphs" stroke="#111" stroke-width="0.3">***</text>
<text x="75.80" y="495.40" font-size="12.2" font-weight="bold" font-style="normal" text-anchor="middle" fill="#000" >WT</text>
<text transform="translate(117.00,495.40) scale(1.04,1)" font-size="12.3" font-weight="bold" font-style="italic" text-anchor="start">Rcan2<tspan font-size="8.36" dy="-5.17" dx="0.49">&#8211;/&#8211;</tspan></text>
<text transform="translate(176.60,495.40) scale(1.02,1)" font-size="12.3" font-weight="bold" font-style="italic" text-anchor="start">Rps6kb1<tspan font-size="8.36" dy="-5.17" dx="0.49">&#8211;/&#8211;</tspan></text>
<text x="251.50" y="281.20" font-size="15" font-weight="normal" font-style="normal" text-anchor="start" fill="#111" >(d)</text>
<line x1="287.70" y1="301.00" x2="287.70" y2="476.60" stroke="#000" stroke-width="2.0" />
<line x1="283.20" y1="475.60" x2="674.50" y2="475.60" stroke="#000" stroke-width="2.0" />
<line x1="283.20" y1="475.60" x2="287.70" y2="475.60" stroke="#000" stroke-width="1.75" />
<text transform="translate(281.60,480.00) scale(1.04,1)" font-size="12.3" font-weight="bold" font-style="normal" text-anchor="end" fill="#000" >0</text>
<line x1="283.20" y1="417.67" x2="287.70" y2="417.67" stroke="#000" stroke-width="1.75" />
<text transform="translate(281.60,422.07) scale(1.04,1)" font-size="12.3" font-weight="bold" font-style="normal" text-anchor="end" fill="#000" >1</text>
<line x1="283.20" y1="359.74" x2="287.70" y2="359.74" stroke="#000" stroke-width="1.75" />
<text transform="translate(281.60,364.14) scale(1.04,1)" font-size="12.3" font-weight="bold" font-style="normal" text-anchor="end" fill="#000" >2</text>
<line x1="283.20" y1="301.81" x2="287.70" y2="301.81" stroke="#000" stroke-width="1.75" />
<text transform="translate(281.60,306.21) scale(1.04,1)" font-size="12.3" font-weight="bold" font-style="normal" text-anchor="end" fill="#000" >3</text>
<text transform="translate(267.60,389.00) rotate(-90)" font-size="12" font-weight="bold" text-anchor="middle" textLength="63.5" lengthAdjust="spacingAndGlyphs">Weight (g)</text>
<rect x="291.60" y="329.04" width="32.00" height="146.56" fill="#000"/>
<line x1="307.60" y1="329.04" x2="307.60" y2="321.51" stroke="#000" stroke-width="1.6" />
<line x1="300.10" y1="321.51" x2="315.10" y2="321.51" stroke="#000" stroke-width="2.1" />
<rect x="333.30" y="404.67" width="30.40" height="70.93" fill="#fff" stroke="#000" stroke-width="1.8"/>
<line x1="348.50" y1="403.77" x2="348.50" y2="396.82" stroke="#000" stroke-width="1.6" />
<line x1="341.00" y1="396.82" x2="356.00" y2="396.82" stroke="#000" stroke-width="2.1" />
<rect x="374.30" y="322.99" width="29.80" height="152.61" fill="url(#hatchd)" stroke="#000" stroke-width="1.8"/>
<line x1="389.20" y1="322.09" x2="389.20" y2="311.08" stroke="#000" stroke-width="1.6" />
<line x1="381.70" y1="311.08" x2="396.70" y2="311.08" stroke="#000" stroke-width="2.1" />
<rect x="423.40" y="386.97" width="32.20" height="88.63" fill="#000"/>
<line x1="439.50" y1="386.97" x2="439.50" y2="381.75" stroke="#000" stroke-width="1.6" />
<line x1="432.00" y1="381.75" x2="447.00" y2="381.75" stroke="#000" stroke-width="2.1" />
<rect x="465.30" y="443.19" width="29.80" height="32.41" fill="#fff" stroke="#000" stroke-width="1.8"/>
<line x1="480.20" y1="442.29" x2="480.20" y2="439.10" stroke="#000" stroke-width="1.6" />
<line x1="472.70" y1="439.10" x2="487.70" y2="439.10" stroke="#000" stroke-width="2.1" />
<rect x="506.30" y="423.78" width="29.40" height="51.82" fill="url(#hatchd)" stroke="#000" stroke-width="1.8"/>
<line x1="521.00" y1="422.88" x2="521.00" y2="418.83" stroke="#000" stroke-width="1.6" />
<line x1="513.50" y1="418.83" x2="528.50" y2="418.83" stroke="#000" stroke-width="2.1" />
<rect x="555.00" y="363.80" width="32.00" height="111.80" fill="#000"/>
<line x1="571.00" y1="363.80" x2="571.00" y2="353.95" stroke="#000" stroke-width="1.6" />
<line x1="563.50" y1="353.95" x2="578.50" y2="353.95" stroke="#000" stroke-width="2.1" />
<rect x="596.90" y="416.83" width="29.80" height="58.77" fill="#fff" stroke="#000" stroke-width="1.8"/>
<line x1="611.80" y1="415.93" x2="611.80" y2="414.19" stroke="#000" stroke-width="1.6" />
<line x1="604.30" y1="414.19" x2="619.30" y2="414.19" stroke="#000" stroke-width="2.1" />
<rect x="637.50" y="400.32" width="30.00" height="75.28" fill="url(#hatchd)" stroke="#000" stroke-width="1.8"/>
<line x1="652.50" y1="399.42" x2="652.50" y2="393.34" stroke="#000" stroke-width="1.6" />
<line x1="645.00" y1="393.34" x2="660.00" y2="393.34" stroke="#000" stroke-width="2.1" />
<path d="M307.60,320.00 L307.60,314.20 L347.60,314.20 L347.60,396.00" fill="none" stroke="#000" stroke-width="1.7" stroke-dasharray="1.6,2.8"/>
<path d="M347.60,314.20 L347.60,299.30 L389.20,299.30 L389.20,309.00" fill="none" stroke="#000" stroke-width="1.7" stroke-dasharray="1.6,2.8"/>
<text transform="translate(327.00,315.61) scale(1,0.95)" font-size="12" font-weight="bold" text-anchor="middle" fill="#111" textLength="16.0" lengthAdjust="spacingAndGlyphs" stroke="#111" stroke-width="0.3">***</text>
<text transform="translate(367.90,300.61) scale(1,0.95)" font-size="12" font-weight="bold" text-anchor="middle" fill="#111" textLength="16.0" lengthAdjust="spacingAndGlyphs" stroke="#111" stroke-width="0.3">***</text>
<path d="M439.50,380.00 L439.50,348.60 L521.00,348.60 L521.00,417.00" fill="none" stroke="#000" stroke-width="1.7" stroke-dasharray="1.6,2.8"/>
<path d="M439.50,368.60 L480.20,368.60 L480.20,437.50" fill="none" stroke="#000" stroke-width="1.7" stroke-dasharray="1.6,2.8"/>
<path d="M480.20,392.00 L521.00,392.00" fill="none" stroke="#000" stroke-width="1.7" stroke-dasharray="1.6,2.8"/>
<text transform="translate(480.60,350.21) scale(1,0.95)" font-size="12" font-weight="bold" text-anchor="middle" fill="#111" textLength="16.0" lengthAdjust="spacingAndGlyphs" stroke="#111" stroke-width="0.3">***</text>
<text transform="translate(460.00,370.21) scale(1,0.95)" font-size="12" font-weight="bold" text-anchor="middle" fill="#111" textLength="16.0" lengthAdjust="spacingAndGlyphs" stroke="#111" stroke-width="0.3">***</text>
<text transform="translate(500.60,394.21) scale(1,0.95)" font-size="12" font-weight="bold" text-anchor="middle" fill="#111" textLength="5.0" lengthAdjust="spacingAndGlyphs" stroke="#111" stroke-width="0.3">*</text>
<path d="M571.00,352.00 L571.00,326.00 L652.40,326.00 L652.40,392.50" fill="none" stroke="#000" stroke-width="1.7" stroke-dasharray="1.6,2.8"/>
<path d="M571.00,344.40 L611.80,344.40 L611.80,413.00" fill="none" stroke="#000" stroke-width="1.7" stroke-dasharray="1.6,2.8"/>
<path d="M611.80,375.40 L652.40,375.40" fill="none" stroke="#000" stroke-width="1.7" stroke-dasharray="1.6,2.8"/>
<text transform="translate(611.60,327.81) scale(1,0.95)" font-size="12" font-weight="bold" text-anchor="middle" fill="#111" textLength="10.5" lengthAdjust="spacingAndGlyphs" stroke="#111" stroke-width="0.3">**</text>
<text transform="translate(591.00,346.11) scale(1,0.95)" font-size="12" font-weight="bold" text-anchor="middle" fill="#111" textLength="16.0" lengthAdjust="spacingAndGlyphs" stroke="#111" stroke-width="0.3">***</text>
<text transform="translate(633.60,377.21) scale(1,0.95)" font-size="12" font-weight="bold" text-anchor="middle" fill="#111" textLength="5.0" lengthAdjust="spacingAndGlyphs" stroke="#111" stroke-width="0.3">*</text>
<text x="305.00" y="488.00" font-size="10" font-weight="bold" font-style="normal" text-anchor="middle" fill="#000" >WT</text>
<text transform="translate(327.00,488.00) scale(1.0,1)" font-size="9.8" font-weight="bold" font-style="italic" text-anchor="start">Rcan2<tspan font-size="6.66" dy="-4.12" dx="0.39">&#8211;/&#8211;</tspan></text>
<text transform="translate(371.00,488.00) scale(1.0,1)" font-size="9.8" font-weight="bold" font-style="italic" text-anchor="start">Rps6kb1<tspan font-size="6.66" dy="-4.12" dx="0.39">&#8211;/&#8211;</tspan></text>
<text x="436.60" y="488.00" font-size="10" font-weight="bold" font-style="normal" text-anchor="middle" fill="#000" >WT</text>
<text transform="translate(454.60,488.00) scale(1.0,1)" font-size="9.8" font-weight="bold" font-style="italic" text-anchor="start">Rcan2<tspan font-size="6.66" dy="-4.12" dx="0.39">&#8211;/&#8211;</tspan></text>
<text transform="translate(497.30,488.00) scale(1.0,1)" font-size="9.8" font-weight="bold" font-style="italic" text-anchor="start">Rps6kb1<tspan font-size="6.66" dy="-4.12" dx="0.39">&#8211;/&#8211;</tspan></text>
<text x="570.00" y="488.00" font-size="10" font-weight="bold" font-style="normal" text-anchor="middle" fill="#000" >WT</text>
<text transform="translate(587.60,488.00) scale(1.0,1)" font-size="9.8" font-weight="bold" font-style="italic" text-anchor="start">Rcan2<tspan font-size="6.66" dy="-4.12" dx="0.39">&#8211;/&#8211;</tspan></text>
<text transform="translate(632.50,488.00) scale(1.0,1)" font-size="9.8" font-weight="bold" font-style="italic" text-anchor="start">Rps6kb1<tspan font-size="6.66" dy="-4.12" dx="0.39">&#8211;/&#8211;</tspan></text>
<line x1="288.60" y1="494.20" x2="408.50" y2="494.20" stroke="#444" stroke-width="1.2" />
<line x1="421.40" y1="494.20" x2="542.50" y2="494.20" stroke="#444" stroke-width="1.2" />
<line x1="555.00" y1="494.20" x2="675.70" y2="494.20" stroke="#444" stroke-width="1.2" />
<text x="346.50" y="508.20" font-size="13.2" font-weight="normal" font-style="normal" text-anchor="middle" fill="#000" textLength="37" lengthAdjust="spacingAndGlyphs" stroke="#000" stroke-width="0.45">EWAT</text>
<text x="478.60" y="508.20" font-size="13.2" font-weight="normal" font-style="normal" text-anchor="middle" fill="#000" textLength="39.7" lengthAdjust="spacingAndGlyphs" stroke="#000" stroke-width="0.45">RWAT</text>
<text x="611.40" y="508.20" font-size="13.2" font-weight="normal" font-style="normal" text-anchor="middle" fill="#000" textLength="32.8" lengthAdjust="spacingAndGlyphs" stroke="#000" stroke-width="0.45">Liver</text>
<text x="4.00" y="539.60" font-size="15" font-weight="normal" font-style="normal" text-anchor="start" fill="#111" >(e)</text>
<line x1="51.90" y1="559.20" x2="51.90" y2="744.70" stroke="#000" stroke-width="2.2" />
<line x1="50.90" y1="743.70" x2="369.00" y2="743.70" stroke="#000" stroke-width="1.9" />
<line x1="47.20" y1="743.70" x2="51.90" y2="743.70" stroke="#000" stroke-width="1.75" />
<text transform="translate(45.40,750.30) scale(1.13,1)" font-size="12.5" font-weight="bold" font-style="normal" text-anchor="end" fill="#000" >0</text>
<line x1="47.20" y1="720.75" x2="51.90" y2="720.75" stroke="#000" stroke-width="1.75" />
<text transform="translate(45.40,727.35) scale(1.13,1)" font-size="12.5" font-weight="bold" font-style="normal" text-anchor="end" fill="#000" >5</text>
<line x1="47.20" y1="697.80" x2="51.90" y2="697.80" stroke="#000" stroke-width="1.75" />
<text transform="translate(45.40,704.40) scale(1.13,1)" font-size="12.5" font-weight="bold" font-style="normal" text-anchor="end" fill="#000" >10</text>
<line x1="47.20" y1="674.85" x2="51.90" y2="674.85" stroke="#000" stroke-width="1.75" />
<text transform="translate(45.40,681.45) scale(1.13,1)" font-size="12.5" font-weight="bold" font-style="normal" text-anchor="end" fill="#000" >15</text>
<line x1="47.20" y1="651.90" x2="51.90" y2="651.90" stroke="#000" stroke-width="1.75" />
<text transform="translate(45.40,658.50) scale(1.13,1)" font-size="12.5" font-weight="bold" font-style="normal" text-anchor="end" fill="#000" >20</text>
<line x1="47.20" y1="628.95" x2="51.90" y2="628.95" stroke="#000" stroke-width="1.75" />
<text transform="translate(45.40,635.55) scale(1.13,1)" font-size="12.5" font-weight="bold" font-style="normal" text-anchor="end" fill="#000" >25</text>
<line x1="47.20" y1="606.00" x2="51.90" y2="606.00" stroke="#000" stroke-width="1.75" />
<text transform="translate(45.40,612.60) scale(1.13,1)" font-size="12.5" font-weight="bold" font-style="normal" text-anchor="end" fill="#000" >30</text>
<line x1="47.20" y1="583.05" x2="51.90" y2="583.05" stroke="#000" stroke-width="1.75" />
<text transform="translate(45.40,589.65) scale(1.13,1)" font-size="12.5" font-weight="bold" font-style="normal" text-anchor="end" fill="#000" >35</text>
<line x1="47.20" y1="560.10" x2="51.90" y2="560.10" stroke="#000" stroke-width="1.75" />
<text transform="translate(45.40,566.70) scale(1.13,1)" font-size="12.5" font-weight="bold" font-style="normal" text-anchor="end" fill="#000" >40</text>
<line x1="51.90" y1="743.70" x2="51.90" y2="748.40" stroke="#000" stroke-width="1.8" />
<line x1="91.65" y1="743.70" x2="91.65" y2="748.40" stroke="#000" stroke-width="1.8" />
<line x1="131.40" y1="743.70" x2="131.40" y2="748.40" stroke="#000" stroke-width="1.8" />
<line x1="171.15" y1="743.70" x2="171.15" y2="748.40" stroke="#000" stroke-width="1.8" />
<line x1="210.90" y1="743.70" x2="210.90" y2="748.40" stroke="#000" stroke-width="1.8" />
<line x1="250.65" y1="743.70" x2="250.65" y2="748.40" stroke="#000" stroke-width="1.8" />
<line x1="290.40" y1="743.70" x2="290.40" y2="748.40" stroke="#000" stroke-width="1.8" />
<line x1="330.15" y1="743.70" x2="330.15" y2="748.40" stroke="#000" stroke-width="1.8" />
<line x1="369.90" y1="743.70" x2="369.90" y2="748.40" stroke="#000" stroke-width="1.8" />
<text x="71.40" y="759.70" font-size="12.8" font-weight="bold" font-style="normal" text-anchor="middle" fill="#000" >1</text>
<text x="111.15" y="759.70" font-size="12.8" font-weight="bold" font-style="normal" text-anchor="middle" fill="#000" >2</text>
<text x="150.90" y="759.70" font-size="12.8" font-weight="bold" font-style="normal" text-anchor="middle" fill="#000" >3</text>
<text x="190.65" y="759.70" font-size="12.8" font-weight="bold" font-style="normal" text-anchor="middle" fill="#000" >4</text>
<text x="230.40" y="759.70" font-size="12.8" font-weight="bold" font-style="normal" text-anchor="middle" fill="#000" >5</text>
<text x="270.15" y="759.70" font-size="12.8" font-weight="bold" font-style="normal" text-anchor="middle" fill="#000" >6</text>
<text x="309.90" y="759.70" font-size="12.8" font-weight="bold" font-style="normal" text-anchor="middle" fill="#000" >7</text>
<text x="349.65" y="759.70" font-size="12.8" font-weight="bold" font-style="normal" text-anchor="middle" fill="#000" >8</text>
<text x="206.00" y="773.60" font-size="13.3" font-weight="bold" font-style="normal" text-anchor="middle" fill="#000" textLength="40" lengthAdjust="spacingAndGlyphs">Times</text>
<text transform="translate(23.70,648.60) rotate(-90)" font-size="12.2" font-weight="bold" text-anchor="middle" textLength="150" lengthAdjust="spacingAndGlyphs">Food intake (g)/2 weeks</text>
<path d="M71.40,605.54 L111.15,618.62 L150.90,624.59 L190.65,619.54 L230.40,615.87 L270.15,612.66 L309.90,612.88 L349.65,611.05" fill="none" stroke="#000" stroke-width="1.6"/>
<path d="M71.40,599.57 L111.15,608.52 L150.90,617.70 L190.65,611.74 L230.40,607.15 L270.15,608.75 L309.90,611.05 L349.65,606.46" fill="none" stroke="#000" stroke-width="1.6"/>
<path d="M71.40,586.03 L111.15,598.89 L150.90,597.05 L190.65,597.51 L230.40,584.66 L270.15,580.98 L309.90,583.28 L349.65,586.49" fill="none" stroke="#000" stroke-width="1.6"/>
<line x1="71.40" y1="580.07" x2="71.40" y2="592.00" stroke="#000" stroke-width="1.3" />
<line x1="68.20" y1="580.07" x2="74.60" y2="580.07" stroke="#000" stroke-width="1.4" />
<line x1="68.20" y1="592.00" x2="74.60" y2="592.00" stroke="#000" stroke-width="1.4" />
<path d="M71.40,601.74 L75.20,608.44 L67.60,608.44 Z" fill="#fff" stroke="#000" stroke-width="1.5"/>
<circle cx="71.40" cy="599.57" r="3.4" fill="#fff" stroke="#000" stroke-width="1.6"/>
<circle cx="71.40" cy="586.03" r="3.8" fill="#000"/>
<line x1="111.15" y1="597.51" x2="111.15" y2="600.26" stroke="#000" stroke-width="1.3" />
<line x1="107.95" y1="597.51" x2="114.35" y2="597.51" stroke="#000" stroke-width="1.4" />
<line x1="107.95" y1="600.26" x2="114.35" y2="600.26" stroke="#000" stroke-width="1.4" />
<path d="M111.15,614.82 L114.95,621.52 L107.35,621.52 Z" fill="#fff" stroke="#000" stroke-width="1.5"/>
<circle cx="111.15" cy="608.52" r="3.4" fill="#fff" stroke="#000" stroke-width="1.6"/>
<circle cx="111.15" cy="598.89" r="3.8" fill="#000"/>
<line x1="150.90" y1="594.30" x2="150.90" y2="599.80" stroke="#000" stroke-width="1.3" />
<line x1="147.70" y1="594.30" x2="154.10" y2="594.30" stroke="#000" stroke-width="1.4" />
<line x1="147.70" y1="599.80" x2="154.10" y2="599.80" stroke="#000" stroke-width="1.4" />
<path d="M150.90,620.79 L154.70,627.49 L147.10,627.49 Z" fill="#fff" stroke="#000" stroke-width="1.5"/>
<circle cx="150.90" cy="617.70" r="3.4" fill="#fff" stroke="#000" stroke-width="1.6"/>
<rect x="147.50" y="593.65" width="6.8" height="6.8" fill="#000"/>
<line x1="190.65" y1="595.21" x2="190.65" y2="599.80" stroke="#000" stroke-width="1.3" />
<line x1="187.45" y1="595.21" x2="193.85" y2="595.21" stroke="#000" stroke-width="1.4" />
<line x1="187.45" y1="599.80" x2="193.85" y2="599.80" stroke="#000" stroke-width="1.4" />
<path d="M190.65,615.74 L194.45,622.44 L186.85,622.44 Z" fill="#fff" stroke="#000" stroke-width="1.5"/>
<circle cx="190.65" cy="611.74" r="3.4" fill="#fff" stroke="#000" stroke-width="1.6"/>
<rect x="187.25" y="594.11" width="6.8" height="6.8" fill="#000"/>
<line x1="230.40" y1="579.61" x2="230.40" y2="589.71" stroke="#000" stroke-width="1.3" />
<line x1="227.20" y1="579.61" x2="233.60" y2="579.61" stroke="#000" stroke-width="1.4" />
<line x1="227.20" y1="589.71" x2="233.60" y2="589.71" stroke="#000" stroke-width="1.4" />
<path d="M230.40,612.07 L234.20,618.77 L226.60,618.77 Z" fill="#fff" stroke="#000" stroke-width="1.5"/>
<circle cx="230.40" cy="607.15" r="3.4" fill="#fff" stroke="#000" stroke-width="1.6"/>
<circle cx="230.40" cy="584.66" r="3.8" fill="#000"/>
<line x1="270.15" y1="577.31" x2="270.15" y2="584.66" stroke="#000" stroke-width="1.3" />
<line x1="266.95" y1="577.31" x2="273.35" y2="577.31" stroke="#000" stroke-width="1.4" />
<line x1="266.95" y1="584.66" x2="273.35" y2="584.66" stroke="#000" stroke-width="1.4" />
<path d="M270.15,608.86 L273.95,615.56 L266.35,615.56 Z" fill="#fff" stroke="#000" stroke-width="1.5"/>
<circle cx="270.15" cy="608.75" r="3.4" fill="#fff" stroke="#000" stroke-width="1.6"/>
<rect x="266.75" y="577.58" width="6.8" height="6.8" fill="#000"/>
<line x1="309.90" y1="576.85" x2="309.90" y2="589.71" stroke="#000" stroke-width="1.3" />
<line x1="306.70" y1="576.85" x2="313.10" y2="576.85" stroke="#000" stroke-width="1.4" />
<line x1="306.70" y1="589.71" x2="313.10" y2="589.71" stroke="#000" stroke-width="1.4" />
<path d="M309.90,609.09 L313.70,615.78 L306.10,615.78 Z" fill="#fff" stroke="#000" stroke-width="1.5"/>
<circle cx="309.90" cy="611.05" r="3.4" fill="#fff" stroke="#000" stroke-width="1.6"/>
<circle cx="309.90" cy="583.28" r="3.8" fill="#000"/>
<line x1="349.65" y1="583.74" x2="349.65" y2="589.25" stroke="#000" stroke-width="1.3" />
<line x1="346.45" y1="583.74" x2="352.85" y2="583.74" stroke="#000" stroke-width="1.4" />
<line x1="346.45" y1="589.25" x2="352.85" y2="589.25" stroke="#000" stroke-width="1.4" />
<path d="M349.65,607.25 L353.45,613.95 L345.85,613.95 Z" fill="#fff" stroke="#000" stroke-width="1.5"/>
<circle cx="349.65" cy="606.46" r="3.4" fill="#fff" stroke="#000" stroke-width="1.6"/>
<rect x="346.25" y="583.09" width="6.8" height="6.8" fill="#000"/>
<text transform="translate(71.40,577.48) scale(1,0.9)" font-size="9.4" font-weight="bold" text-anchor="middle" fill="#111">#</text>
<text transform="translate(111.15,594.48) scale(1,0.9)" font-size="9.4" font-weight="bold" text-anchor="middle" fill="#111">##</text>
<text transform="translate(111.15,588.27) scale(1,0.9)" font-size="9" font-weight="bold" text-anchor="middle" fill="#1a1a1a">*</text>
<text transform="translate(150.90,592.18) scale(1,0.9)" font-size="9.4" font-weight="bold" text-anchor="middle" fill="#111">##</text>
<text transform="translate(150.90,587.67) scale(1,0.9)" font-size="9" font-weight="bold" text-anchor="middle" fill="#1a1a1a">*</text>
<text transform="translate(190.65,592.18) scale(1,0.9)" font-size="9.4" font-weight="bold" text-anchor="middle" fill="#111">##</text>
<text transform="translate(190.65,587.07) scale(1,0.9)" font-size="9" font-weight="bold" text-anchor="middle" fill="#1a1a1a">*</text>
<text transform="translate(230.40,577.08) scale(1,0.9)" font-size="9.4" font-weight="bold" text-anchor="middle" fill="#111">##</text>
<text transform="translate(230.40,572.07) scale(1,0.9)" font-size="9" font-weight="bold" text-anchor="middle" fill="#1a1a1a">*</text>
<text transform="translate(270.15,575.08) scale(1,0.9)" font-size="9.4" font-weight="bold" text-anchor="middle" fill="#111">##</text>
<text transform="translate(270.15,570.07) scale(1,0.9)" font-size="9" font-weight="bold" text-anchor="middle" fill="#1a1a1a">**</text>
<text transform="translate(309.90,574.28) scale(1,0.9)" font-size="9.4" font-weight="bold" text-anchor="middle" fill="#111">##</text>
<text transform="translate(309.90,568.97) scale(1,0.9)" font-size="9" font-weight="bold" text-anchor="middle" fill="#1a1a1a">**</text>
<text transform="translate(349.65,581.08) scale(1,0.9)" font-size="9.4" font-weight="bold" text-anchor="middle" fill="#111">##</text>
<text transform="translate(349.65,575.67) scale(1,0.9)" font-size="9" font-weight="bold" text-anchor="middle" fill="#1a1a1a">**</text>
<circle cx="290.5" cy="688.7" r="3.8" fill="#000"/>
<text x="300.60" y="693.30" font-size="11.5" font-weight="bold" font-style="normal" text-anchor="start" fill="#000" >WT</text>
<circle cx="290.6" cy="705.5" r="3.2" fill="#fff" stroke="#333" stroke-width="1.1"/>
<text transform="translate(298.80,710.10) scale(1.0,1)" font-size="11.6" font-weight="bold" font-style="italic" text-anchor="start">Rcan2<tspan font-size="7.89" dy="-4.87" dx="0.46">&#8211;/&#8211;</tspan></text>
<path d="M290.6,718.8 L294.5,725.2 L286.7,725.2 Z" fill="#fff" stroke="#111" stroke-width="1.2"/>
<text transform="translate(299.30,726.10) scale(1.0,1)" font-size="11.6" font-weight="bold" font-style="italic" text-anchor="start">Rps6kb1<tspan font-size="7.89" dy="-4.87" dx="0.46">&#8211;/&#8211;</tspan></text>
<text x="380.80" y="540.00" font-size="15" font-weight="normal" font-style="normal" text-anchor="start" fill="#111" >(f)</text>
<line x1="438.40" y1="564.20" x2="438.40" y2="747.20" stroke="#000" stroke-width="2.1" />
<line x1="433.60" y1="746.20" x2="673.70" y2="746.20" stroke="#000" stroke-width="2.0" />
<line x1="433.60" y1="746.20" x2="438.40" y2="746.20" stroke="#000" stroke-width="1.75" />
<text transform="translate(432.50,751.10) scale(1.1,1)" font-size="12.7" font-weight="bold" font-style="normal" text-anchor="end" fill="#000" >0</text>
<line x1="433.60" y1="685.77" x2="438.40" y2="685.77" stroke="#000" stroke-width="1.75" />
<text transform="translate(432.50,690.67) scale(1.1,1)" font-size="12.7" font-weight="bold" font-style="normal" text-anchor="end" fill="#000" >100</text>
<line x1="433.60" y1="625.34" x2="438.40" y2="625.34" stroke="#000" stroke-width="1.75" />
<text transform="translate(432.50,630.24) scale(1.1,1)" font-size="12.7" font-weight="bold" font-style="normal" text-anchor="end" fill="#000" >200</text>
<line x1="433.60" y1="564.91" x2="438.40" y2="564.91" stroke="#000" stroke-width="1.75" />
<text transform="translate(432.50,569.81) scale(1.1,1)" font-size="12.7" font-weight="bold" font-style="normal" text-anchor="end" fill="#000" >300</text>
<text transform="translate(401.20,655.60) rotate(-90)" font-size="12.2" font-weight="bold" text-anchor="middle" textLength="171" lengthAdjust="spacingAndGlyphs">Cumulative food intake (g)</text>
<rect x="451.30" y="583.10" width="53.10" height="163.10" fill="#000"/>
<line x1="477.85" y1="583.10" x2="477.85" y2="580.02" stroke="#000" stroke-width="1.6" />
<line x1="467.85" y1="580.02" x2="487.85" y2="580.02" stroke="#000" stroke-width="2.1" />
<rect x="531.10" y="604.55" width="50.40" height="141.65" fill="#fff" stroke="#000" stroke-width="1.8"/>
<line x1="556.30" y1="603.65" x2="556.30" y2="603.22" stroke="#000" stroke-width="1.6" />
<line x1="544.30" y1="603.22" x2="568.30" y2="603.22" stroke="#000" stroke-width="2.1" />
<rect x="609.50" y="611.01" width="51.10" height="135.19" fill="url(#hatchf)" stroke="#000" stroke-width="1.8"/>
<line x1="635.05" y1="610.11" x2="635.05" y2="608.66" stroke="#000" stroke-width="1.6" />
<line x1="622.05" y1="608.66" x2="648.05" y2="608.66" stroke="#000" stroke-width="2.1" />
<path d="M478.30,578.50 L478.30,550.30 L634.80,550.30 L634.80,607.00" fill="none" stroke="#000" stroke-width="1.7" stroke-dasharray="1.6,3.0"/>
<path d="M478.30,566.40 L556.30,566.40 L556.30,602.00" fill="none" stroke="#000" stroke-width="1.7" stroke-dasharray="1.6,3.0"/>
<text transform="translate(555.70,551.56) scale(1,0.95)" font-size="12.5" font-weight="bold" text-anchor="middle" fill="#111" textLength="17.5" lengthAdjust="spacingAndGlyphs" stroke="#111" stroke-width="0.3">***</text>
<text transform="translate(517.90,568.36) scale(1,0.95)" font-size="12.5" font-weight="bold" text-anchor="middle" fill="#111" textLength="17.5" lengthAdjust="spacingAndGlyphs" stroke="#111" stroke-width="0.3">***</text>
<text x="480.90" y="760.10" font-size="12.2" font-weight="bold" font-style="normal" text-anchor="middle" fill="#000" >WT</text>
<text transform="translate(530.00,760.10) scale(1.04,1)" font-size="12.3" font-weight="bold" font-style="italic" text-anchor="start">Rcan2<tspan font-size="8.36" dy="-5.17" dx="0.49">&#8211;/&#8211;</tspan></text>
<text transform="translate(603.90,760.10) scale(1.02,1)" font-size="12.3" font-weight="bold" font-style="italic" text-anchor="start">Rps6kb1<tspan font-size="8.36" dy="-5.17" dx="0.49">&#8211;/&#8211;</tspan></text>
</svg></body></html>
